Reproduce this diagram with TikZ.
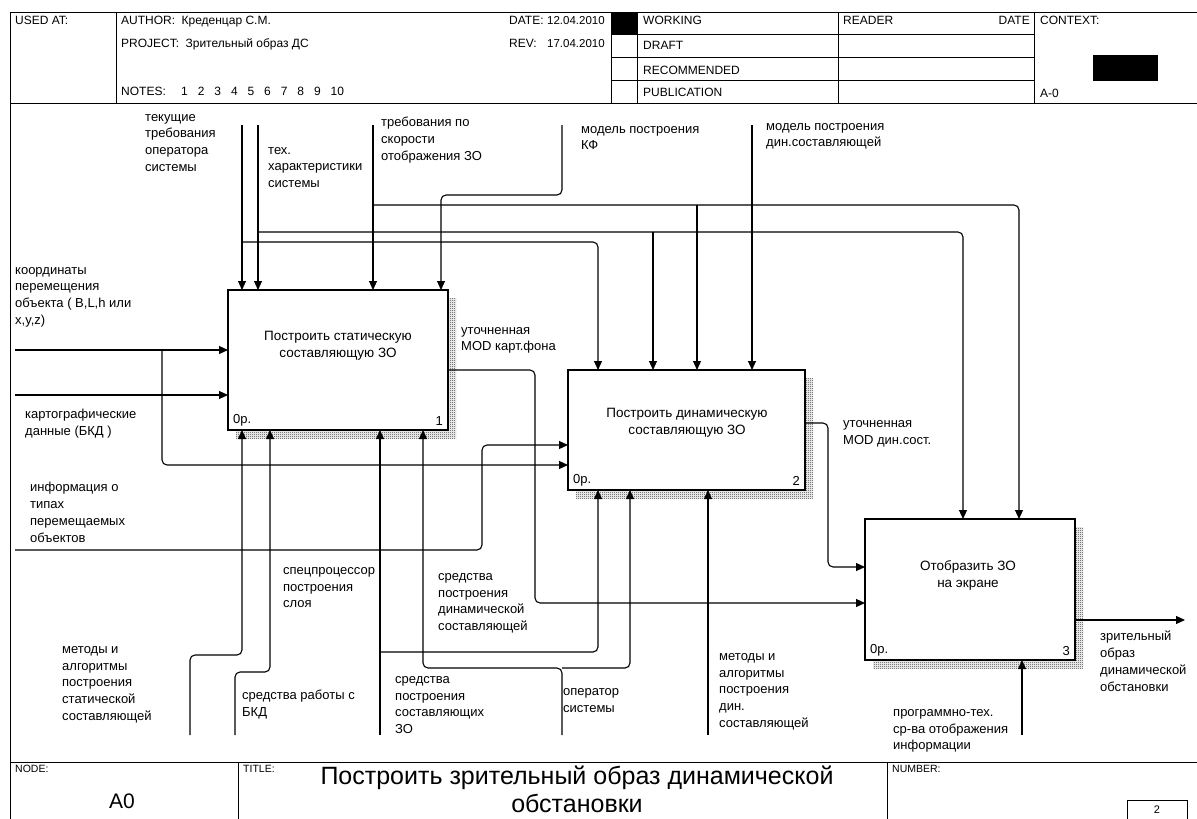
\documentclass[tikz,border=0pt]{standalone}
\usepackage{fontspec}
\setmainfont{Liberation Sans}
\usetikzlibrary{arrows.meta,shadows,patterns}
\pgfdeclarepatternformonly{checkerfine}{\pgfpointorigin}{\pgfpoint{2pt}{2pt}}{\pgfpoint{2pt}{2pt}}{%
  \pgfpathrectangle{\pgfpointorigin}{\pgfpoint{1pt}{1pt}}%
  \pgfpathrectangle{\pgfpoint{1pt}{1pt}}{\pgfpoint{1pt}{1pt}}%
  \pgfusepath{fill}}

\begin{document}
\begin{tikzpicture}[x=1pt,y=-1pt,font=\fontsize{13}{16.8}\selectfont,
  frm/.style={line width=1pt},
  fn/.style={draw, fill=white, line width=1.2pt, inner sep=0pt, outer sep=0pt,
    general shadow={shadow xshift=8pt, shadow yshift=-8pt, pattern=checkerfine, pattern color=black!80}},
  fntext/.style={align=center, inner sep=0pt, font=\fontsize{13.5}{16.8}\selectfont},
  lbl/.style={anchor=north west, align=left, inner sep=0pt, execute at begin node=\strut},
  hdr/.style={anchor=base west, inner sep=0pt, font=\fontsize{12}{15}\selectfont},
  arr/.style={line width=1.1pt, rounded corners=5pt, -{Triangle[length=9pt,width=8pt]}}]
\useasboundingbox (0,0) rectangle (1197,819);

% frame and header
\draw[frm] (10,819) -- (10,12) -- (1197,12);
\draw[frm] (10,103) -- (1197,103);
\draw[frm] (10,762) -- (1197,762);
\draw[frm] (116,12) -- (116,103);
\foreach \x in {611,637,838,1034} \draw[frm] (\x,12) -- (\x,103);
\foreach \y in {34,57,80} \draw[frm] (611,\y) -- (1034,\y);
\fill (611,12) rectangle (637,34);
\fill (1093,55) rectangle (1158,81);
\draw[frm] (238,762) -- (238,819);
\draw[frm] (887,762) -- (887,819);
\draw[frm] (1127,819) |- (1187,800) -- (1187,819);

\node[hdr] (usedat) at (15,24) {USED AT:};
\node[hdr] (author) at (121,24) {AUTHOR:};
\node[hdr] (authorv) at ([xshift=6pt]author.base east) {Креденцар С.М.};
\node[hdr] (project) at (121,47) {PROJECT:};
\node[hdr] (projectv) at ([xshift=6pt]project.base east) {Зрительный образ ДС};
\node[hdr] (notes) at (121,95) {NOTES:};
\foreach \n [count=\i from 0] in {1,...,10}
  \node[hdr] (note\n) at (181+16.6*\i,95) {\n};
\node[hdr] (date) at (509,24) {DATE:};
\node[hdr, font=\fontsize{11.5}{15}\selectfont] (datev) at (547,24) {12.04.2010};
\node[hdr] (rev) at (509,47) {REV:};
\node[hdr, font=\fontsize{11.5}{15}\selectfont] (revv) at (547,47) {17.04.2010};
\node[hdr] (working) at (643,24) {WORKING};
\node[hdr] (draft) at (643,49) {DRAFT};
\node[hdr] (recom) at (643,74) {RECOMMENDED};
\node[hdr] (public) at (643,96) {PUBLICATION};
\node[hdr] (reader) at (843,24) {READER};
\node[hdr, anchor=base east] (rdate) at (1030,24) {DATE};
\node[hdr] (context) at (1040,24) {CONTEXT:};
\node[hdr] (ctxno) at (1040,97) {A-0};

% footer
\node[anchor=north west, inner sep=0pt, font=\fontsize{10.5}{12}\selectfont] (nodelbl) at (15,765) {NODE:};
\node[font=\fontsize{21}{24}\selectfont] (nodeno) at (122,801) {A0};
\node[anchor=north west, inner sep=0pt, font=\fontsize{10.5}{12}\selectfont] (titlelbl) at (243,765) {TITLE:};
\node[align=center, inner sep=0pt, font=\fontsize{25}{28}\selectfont] (title) at (577,789) {Построить зрительный образ динамической\\обстановки};
\node[anchor=north west, inner sep=0pt, font=\fontsize{10.5}{12}\selectfont] (numlbl) at (892,765) {NUMBER:};
\node[inner sep=0pt, font=\fontsize{11}{12}\selectfont] (pageno) at (1157,810) {2};

% functions
\node[fn, minimum width=220pt, minimum height=140pt] (b1) at (338,360) {};
\node[fn, minimum width=237pt, minimum height=120pt] (b2) at (686.5,430) {};
\node[fn, minimum width=210pt, minimum height=141pt] (b3) at (970,589.5) {};
\node[fntext] (b1t) at (338,346) {Построить статическую\\составляющую ЗО};
\node[fntext] (b2t) at (687,422.5) {Построить динамическую\\составляющую ЗО};
\node[fntext] (b3t) at (968,575.5) {Отобразить ЗО\\на экране};
\foreach \b/\n in {b1/1,b2/2,b3/3} {
  \node[anchor=south west, inner sep=0pt] (\b op) at ([xshift=5pt,yshift=4pt]\b.south west) {0р.};
  \node[anchor=south east, inner sep=0pt] (\b no) at ([xshift=-5pt,yshift=4pt]\b.south east) {\n};
}

% controls
\coordinate (k1) at (242,125);
\coordinate (k2) at (258,125);
\coordinate (k3) at (373,125);
\coordinate (k4) at (562,125);
\coordinate (k5) at (752,125);
\coordinate (k1b) at (242,242);
\coordinate (k2b) at (258,232);
\coordinate (k3b) at (373,205);
\coordinate (k4b) at (562,195);
\draw[arr] (k1) -- (k1 |- b1.north);
\draw[arr] (k1b) -| ([xshift=30pt]b2.north west);
\draw[arr] (k2) -- (k2 |- b1.north);
\draw[arr] (k2b) -| ([xshift=98pt]b3.north west);
\draw[arr] ([xshift=85pt]b2.north west |- k2b) -- ([xshift=85pt]b2.north west);
\draw[arr] (k3) -- (k3 |- b1.north);
\draw[arr] (k3b) -| ([xshift=154pt]b3.north west);
\draw[arr] ([xshift=129pt]b2.north west |- k3b) -- ([xshift=129pt]b2.north west);
\draw[arr] (k4) -- (k4b) -| ([xshift=213pt]b1.north west);
\draw[arr] (k5) -- (k5 |- b2.north);

% inputs
\coordinate (i1) at (15,350);
\coordinate (i2) at (15,395);
\coordinate (i3) at (15,550);
\coordinate (i1b) at (162,350);
\coordinate (i3b) at (482,550);
\draw[arr] (i1) -- (i1 -| b1.west);
\draw[arr] (i1b) |- ([yshift=-95pt]b2.north west);
\draw[arr] (i2) -- (i2 -| b1.west);
\draw[arr] (i3) -- (i3b) |- ([yshift=-75pt]b2.north west);

% outputs
\coordinate (o1) at (535,603);
\coordinate (o2) at (828,567);
\coordinate (o3) at (1185,620);
\draw[arr] ([yshift=-80pt]b1.north east) -| (o1) -- (o1 -| b3.west);
\draw[arr] ([yshift=-53pt]b2.north east) -| (o2) -- (o2 -| b3.west);
\draw[arr] (o3 -| b3.east) -- (o3);

% mechanisms
\coordinate (m1) at (190,735);
\coordinate (m2) at (235,735);
\coordinate (m3) at (380,735);
\coordinate (m4) at (562,735);
\coordinate (m5) at (708,735);
\coordinate (m6) at (1022,735);
\coordinate (m1b) at (190,655);
\coordinate (m2b) at (235,672);
\coordinate (m3b) at (380,652);
\coordinate (m4b) at (562,668);
\draw[arr] (m1) -- (m1b) -| ([xshift=14pt]b1.south west);
\draw[arr] (m2) -- (m2b) -| ([xshift=42pt]b1.south west);
\draw[arr] (m3) -- (m3 |- b1.south);
\draw[arr] (m3b) -| ([xshift=30pt]b2.south west);
\draw[arr] (m4) -- (m4b) -| ([xshift=195pt]b1.south west);
\draw[arr] (m4b) -| ([xshift=62pt]b2.south west);
\draw[arr] (m5) -- (m5 |- b2.south);
\draw[arr] (m6) -- (m6 |- b3.south);

% arrow labels
\node[lbl] (lk1) at (145,114) {текущие\\требования\\оператора\\системы};
\node[lbl] (lk2) at (268,147) {тех.\\характеристики\\системы};
\node[lbl] (lk3) at (381,117) {требования по\\скорости\\отображения ЗО};
\node[lbl] (lk4) at (581,126) {модель построения\\КФ};
\node[lbl] (lk5) at (766,123) {модель построения\\дин.составляющей};
\node[lbl] (li1) at (15,267) {координаты\\перемещения\\объекта ( B,L,h или\\x,y,z)};
\node[lbl] (li2) at (25,409) {картографические\\данные (БКД )};
\node[lbl] (li3) at (30,482) {информация о\\типах\\перемещаемых\\объектов};
\node[lbl] (lo1) at (461,327) {уточненная\\MOD карт.фона};
\node[lbl] (lo2) at (843,420) {уточненная\\MOD дин.сост.};
\node[lbl] (lo3) at (1100,631) {зрительный\\образ\\динамической\\обстановки};
\node[lbl] (lm3a) at (283,567) {спецпроцессор\\построения\\слоя};
\node[lbl] (lm3b) at (438,573) {средства\\построения\\динамической\\составляющей};
\node[lbl] (lm1) at (62,646) {методы и\\алгоритмы\\построения\\статической\\составляющей};
\node[lbl] (lm2) at (242,690) {средства работы с\\БКД};
\node[lbl] (lm3) at (395,676) {средства\\построения\\составляющих\\ЗО};
\node[lbl] (lm4) at (563,688) {оператор\\системы};
\node[lbl] (lm5) at (719,653) {методы и\\алгоритмы\\построения\\дин.\\составляющей};
\node[lbl] (lm6) at (893,709) {программно-тех.\\ср-ва отображения\\информации};
\end{tikzpicture}
\end{document}
